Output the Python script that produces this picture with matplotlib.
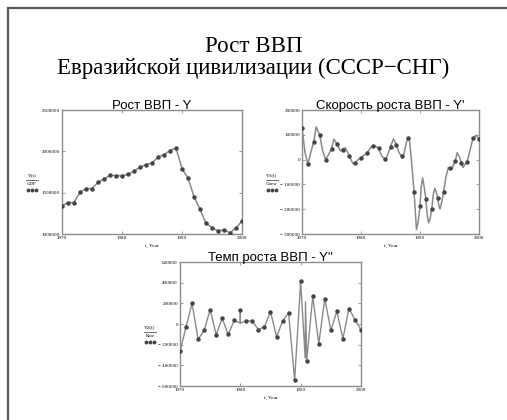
import matplotlib
matplotlib.use("Agg")
import matplotlib.pyplot as plt
from matplotlib.lines import Line2D

# ---------------- data ----------------
years = list(range(1970, 2001))

gdp = [1341000, 1381000, 1381000, 1505000, 1550000, 1550000, 1626000, 1666000,
       1710000, 1706000, 1706000, 1720000, 1760000, 1810000, 1840000, 1860000,
       1930000, 1960000, 2010000, 2040000, 1790000, 1680000, 1450000, 1300000,
       1130000, 1076000, 1036000, 1050000, 1016000, 1070000, 1160000]

speed_dots = [128000, -19000, 72000, 99000, 0, 44000, 61000, 37000, 16000,
              -13000, 8000, 25000, 55000, 45000, 4000, 51000, 59000, 13000,
              87000, -132000, -189000, -159000, -199000, -156000, -131000,
              -35000, -4000, -12000, -8000, 88000, 83000]

speed_curve_t = [1970, 1970.5, 1971, 1971.5, 1972, 1972.4, 1973, 1973.5, 1974,
                 1974.5, 1975, 1975.4, 1976, 1976.5, 1977, 1977.3, 1977.6, 1978,
                 1978.6, 1979, 1979.5, 1980, 1981, 1981.6, 1982, 1982.3, 1983,
                 1983.5, 1984, 1984.2, 1984.6, 1985, 1985.5, 1986, 1986.5, 1987,
                 1987.3, 1987.7, 1988, 1988.15, 1988.5, 1989, 1989.4, 1989.7,
                 1990, 1990.2, 1990.45, 1990.7, 1991, 1991.2, 1991.45, 1991.7,
                 1992, 1992.25, 1992.5, 1992.75, 1993, 1993.2, 1993.4, 1993.7,
                 1994, 1994.4, 1994.8, 1995, 1995.4, 1995.7, 1996, 1996.3,
                 1996.7, 1997, 1997.3, 1997.6, 1998, 1998.5, 1999, 1999.5, 2000]
speed_curve_v = [128000, 30000, -19000, 30000, 72000, 132000, 99000, 35000, 0,
                 20000, 44000, 82000, 61000, 35000, 45000, 48000, 35000, 16000,
                 -15000, -13000, 0, 8000, 25000, 48000, 55000, 57000, 45000,
                 15000, 4000, 2000, 25000, 51000, 84000, 59000, 25000, 13000,
                 25000, 70000, 87000, 90000, 10000, -132000, -282000, -250000,
                 -189000, -110000, -74000, -110000, -159000, -220000, -255000,
                 -240000, -199000, -140000, -116000, -130000, -156000, -185000,
                 -199000, -170000, -131000, -70000, -32000, -35000, -40000,
                 -20000, -4000, 28000, 10000, -12000, -32000, -20000, -8000,
                 40000, 88000, 98000, 83000]

rate_dots = [-266000, -29000, 201000, -149000, -62000, 139000, -104000, 55000,
             -101000, 36000, 139000, 32000, 26000, -55000, -26000, 120000,
             -123000, 26000, 110000, -542000, 412000, -354000, 269000, -191000,
             246000, -62000, 123000, -143000, 149000, 42000, -58000]

rate_line_t = [1970, 1971, 1972, 1973, 1974, 1975, 1976, 1977, 1978, 1979,
               1980, 1980, 1980, 1981, 1982, 1983, 1984, 1985, 1986, 1987, 1988,
               1989, 1990, 1990.75, 1990.8, 1991, 1992, 1993, 1994, 1995, 1996,
               1997, 1998, 1999, 2000]
rate_line_v = [-266000, -29000, 201000, -149000, -62000, 139000, -104000, 55000,
               -101000, 36000, 8000, 139000, 8000, 32000, 26000, -55000, -26000,
               120000, -123000, 26000, 110000, -542000, 412000, -330000, 214000,
               -354000, 269000, -191000, 246000, -62000, 123000, -143000,
               149000, 42000, -58000]

titles = ["Рост ВВП - Y", "Скорость роста ВВП - Y'", "Темп роста ВВП - Y''"]
main_title_1 = "Рост ВВП"
main_title_2 = "Евразийской цивилизации (СССР\u2212СНГ)"
ylab_top = ["Y(t)", "Y1(t)", "Y2(t)"]
ylab_bot = ["GDP", "Gnew", "Rate"]
xlabel = "t, Year"
xticks = [1970, 1980, 1990, 2000]

# ---------------- style ----------------
LINE = "#8a8a8a"
DOT = "#454545"
SPINE = "#8c8c8c"
W, H = 507, 420

fig = plt.figure(figsize=(W / 100, H / 100), dpi=100)
fig.patch.set_facecolor("white")

# outer frame (top and left edges visible)
fig.add_artist(Line2D([8 / W, 1.0], [1 - 8 / H, 1 - 8 / H], transform=fig.transFigure,
                      color="#5a5a5a", lw=1.6))
fig.add_artist(Line2D([8 / W, 8 / W], [0, 1 - 8 / H], transform=fig.transFigure,
                      color="#5a5a5a", lw=1.6))

fig.text(0.5, 1 - 46 / H, main_title_1, ha="center", va="center",
         family="Liberation Serif", fontsize=16.5)
fig.text(0.5, 1 - 68 / H, main_title_2, ha="center", va="center",
         family="Liberation Serif", fontsize=16.5)


def box(l, r, t, b):
    return [l / W, 1 - b / H, (r - l) / W, (b - t) / H]


axes_px = [(62, 242, 110, 234), (302, 479, 110, 234), (180, 361, 262, 386)]
ylims = [(1000000, 2500000), (-300000, 200000), (-600000, 600000)]
ysteps = [500000, 100000, 200000]

for i, (l, r, t, b) in enumerate(axes_px):
    ax = fig.add_axes(box(l, r, t, b))
    if i == 0:
        ax.plot(years, gdp, color=LINE, lw=1.1, zorder=2)
        ax.plot(years, gdp, "o", color=DOT, ms=2.2, zorder=3)
    elif i == 1:
        ax.plot(speed_curve_t, speed_curve_v, color=LINE, lw=1.1, zorder=2)
        ax.plot(years, speed_dots, "o", color=DOT, ms=2.2, zorder=3)
    else:
        ax.plot(rate_line_t, rate_line_v, color=LINE, lw=1.0, zorder=2)
        ax.plot(years, rate_dots, "o", color=DOT, ms=2.2, zorder=3)

    ax.set_xlim(1970, 2000)
    lo, hi = ylims[i]
    ax.set_ylim(lo, hi)
    ax.set_xticks(xticks)
    ax.set_xticklabels([str(x) for x in xticks])
    yt = list(range(lo, hi + 1, ysteps[i]))
    ax.set_yticks(yt)
    ax.set_yticklabels([("\u2212 " + str(abs(v))) if v < 0 else str(v) for v in yt])
    ax.tick_params(direction="in", length=2.5, width=0.6, color=SPINE,
                   top=True, right=True, labelsize=3.6, pad=1.5)
    for lab in ax.get_xticklabels() + ax.get_yticklabels():
        lab.set_family("Liberation Serif")
    for s in ax.spines.values():
        s.set_color(SPINE)
        s.set_linewidth(1.0)
    ax.set_title(titles[i], family="Liberation Sans", fontsize=9.5, pad=1.0)
    ax.set_xlabel(xlabel, family="Liberation Serif", fontsize=3.8, labelpad=3)

    # Mathcad-style legend label at left
    cx = (l - 30) / W
    cy = 1 - ((t + b) / 2 + 10) / H
    fig.text(cx, cy + 7 / H, ylab_top[i], ha="center", va="center",
             family="Liberation Serif", fontsize=3.8)
    fig.add_artist(Line2D([cx - 6 / W, cx + 6 / W], [cy + 2.5 / H, cy + 2.5 / H],
                          transform=fig.transFigure, color="#333333", lw=0.5))
    fig.text(cx, cy - 2 / H, ylab_bot[i], ha="center", va="center",
             family="Liberation Serif", fontsize=3.5)
    fig.add_artist(Line2D([cx - 4 / W, cx, cx + 4 / W], [cy - 8 / H] * 3,
                          transform=fig.transFigure, ls="none", marker="o",
                          ms=1.8, color=DOT))

fig.savefig("out.png", dpi=100, facecolor="white")
